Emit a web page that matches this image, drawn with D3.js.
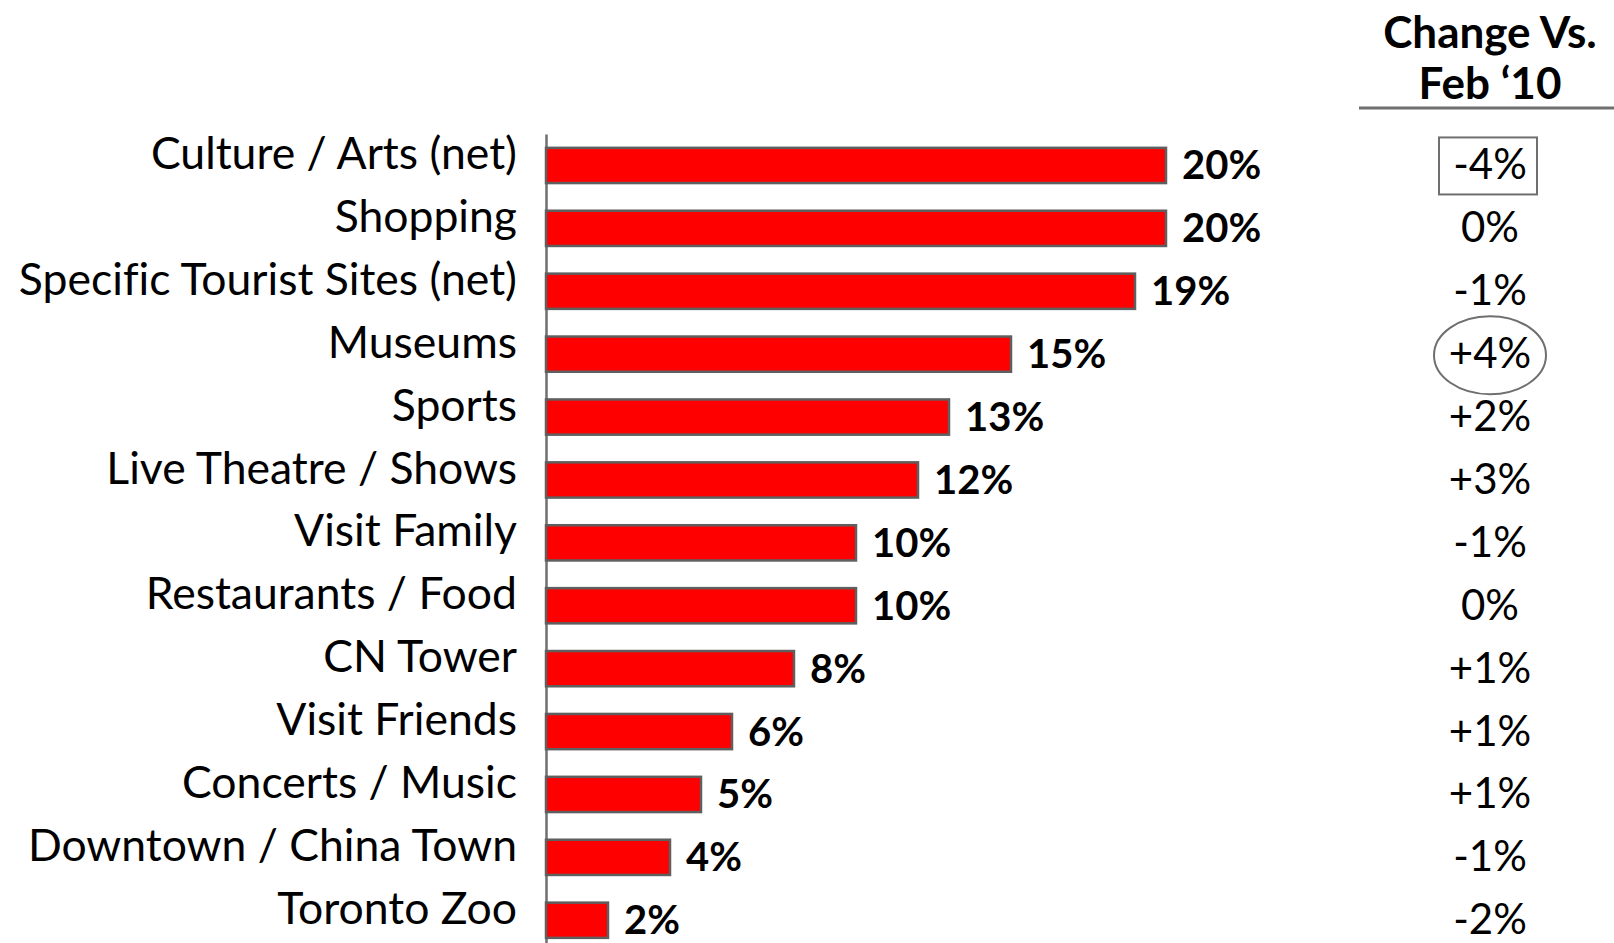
<!DOCTYPE html>
<html>
<head>
<meta charset="utf-8">
<script src="https://cdn.jsdelivr.net/npm/d3@7"></script>
<style>
  html, body { margin: 0; padding: 0; background: #fff; }
  svg { display: block; font-family: Lato, "Noto Sans", sans-serif; font-variant-ligatures: none; }
</style>
</head>
<body>
<svg id="chart" width="1614" height="943"></svg>
<script>
// Activities, share of visitors, and change versus Feb '10
const categories = [
  "Culture / Arts (net)", "Shopping", "Specific Tourist Sites (net)", "Museums",
  "Sports", "Live Theatre / Shows", "Visit Family", "Restaurants / Food",
  "CN Tower", "Visit Friends", "Concerts / Music", "Downtown / China Town", "Toronto Zoo"
];
const values = [20, 20, 19, 15, 13, 12, 10, 10, 8, 6, 5, 4, 2];
const changes = ["-4%", "0%", "-1%", "+4%", "+2%", "+3%", "-1%", "0%", "+1%", "+1%", "+1%", "-1%", "-2%"];
const changeHeader = ["Change Vs.", "Feb \u201810"];
const boxedChange = "Culture / Arts (net)";
const circledChange = "Museums";

const svg = d3.select("#chart");

const x = d3.scaleLinear().domain([0, 20]).range([546, 1166]);
const y = d3.scaleBand().domain(categories)
  .range([134, 134 + 62.9 * categories.length])
  .paddingInner(0.44).paddingOuter(0.22);

// Category axis
const axis = svg.append("g")
  .attr("transform", `translate(${x(0)},0)`)
  .call(d3.axisLeft(y).tickSize(0).tickPadding(29).tickSizeOuter(0));
axis.select(".domain").attr("stroke", "#6f6f6f").attr("stroke-width", 2.5);
axis.selectAll(".tick text")
  .attr("font-family", "Lato, 'Noto Sans', sans-serif")
  .attr("font-size", 44.5)
  .attr("fill", "#000")
  .attr("dy", "0.08em");

// Bars
svg.append("g").selectAll("rect")
  .data(categories)
  .join("rect")
  .attr("x", x(0))
  .attr("y", d => y(d))
  .attr("width", (d, i) => x(values[i]) - x(0))
  .attr("height", y.bandwidth())
  .attr("fill", "#ff0000")
  .attr("stroke", "#5f5f5f")
  .attr("stroke-width", 2.5);

// Value labels
svg.append("g").selectAll("text")
  .data(categories)
  .join("text")
  .attr("x", (d, i) => x(values[i]) + 16)
  .attr("y", d => y(d) + y.bandwidth() / 2 - 1)
  .attr("dominant-baseline", "central")
  .attr("font-size", 40)
  .attr("font-weight", "bold")
  .attr("fill", "#000")
  .text((d, i) => values[i] + "%");

// Change column
const colX = 1490;
svg.append("g").selectAll("text")
  .data(changeHeader)
  .join("text")
  .attr("x", colX)
  .attr("y", (d, i) => 31 + i * 51)
  .attr("text-anchor", "middle")
  .attr("dominant-baseline", "central")
  .attr("font-size", 44)
  .attr("font-weight", "bold")
  .text(d => d);

svg.append("line")
  .attr("x1", 1359).attr("x2", 1614)
  .attr("y1", 108).attr("y2", 108)
  .attr("stroke", "#6f6f6f").attr("stroke-width", 3);

svg.append("g").selectAll("text")
  .data(categories)
  .join("text")
  .attr("x", colX)
  .attr("y", d => y(d) + y.bandwidth() / 2 - 2)
  .attr("text-anchor", "middle")
  .attr("dominant-baseline", "central")
  .attr("font-size", 42)
  .attr("fill", "#000")
  .text((d, i) => changes[i]);

// Highlight marks around the largest moves
const by = y(boxedChange) + y.bandwidth() / 2;
svg.append("rect")
  .attr("x", 1439).attr("y", by - 28)
  .attr("width", 98).attr("height", 57)
  .attr("fill", "none").attr("stroke", "#6f6f6f").attr("stroke-width", 2);

const cy = y(circledChange) + y.bandwidth() / 2 + 1;
svg.append("ellipse")
  .attr("cx", colX).attr("cy", cy)
  .attr("rx", 56).attr("ry", 39)
  .attr("fill", "none").attr("stroke", "#6f6f6f").attr("stroke-width", 2);
</script>
</body>
</html>
